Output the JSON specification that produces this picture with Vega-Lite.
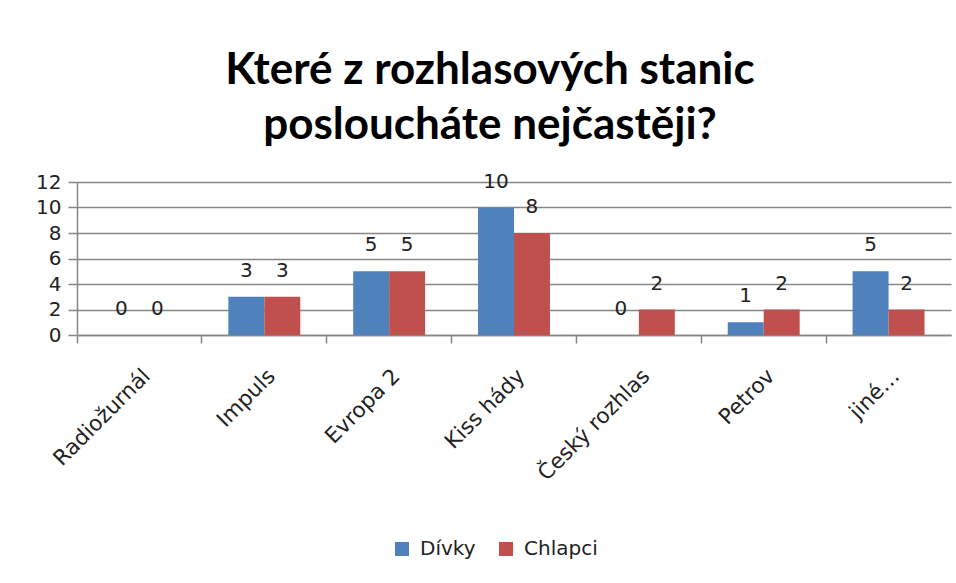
{
  "$schema": "https://vega.github.io/schema/vega-lite/v6.json",
  "autosize": "none",
  "width": 874,
  "height": 153,
  "padding": {"left": 77, "top": 182, "right": 5, "bottom": 248},
  "background": "white",
  "title": {
    "text": ["Které z rozhlasových stanic", "posloucháte nejčastěji?"],
    "font": "Lato",
    "fontSize": 44,
    "fontWeight": "bold",
    "color": "#000000",
    "lineHeight": 55,
    "anchor": "middle",
    "dx": -24,
    "offset": 24
  },
  "data": {
    "values": [
      {"stanice": "Radiožurnál", "skupina": "Dívky", "pocet": 0},
      {"stanice": "Radiožurnál", "skupina": "Chlapci", "pocet": 0},
      {"stanice": "Impuls", "skupina": "Dívky", "pocet": 3},
      {"stanice": "Impuls", "skupina": "Chlapci", "pocet": 3},
      {"stanice": "Evropa 2", "skupina": "Dívky", "pocet": 5},
      {"stanice": "Evropa 2", "skupina": "Chlapci", "pocet": 5},
      {"stanice": "Kiss hády", "skupina": "Dívky", "pocet": 10},
      {"stanice": "Kiss hády", "skupina": "Chlapci", "pocet": 8},
      {"stanice": "Český rozhlas", "skupina": "Dívky", "pocet": 0},
      {"stanice": "Český rozhlas", "skupina": "Chlapci", "pocet": 2},
      {"stanice": "Petrov", "skupina": "Dívky", "pocet": 1},
      {"stanice": "Petrov", "skupina": "Chlapci", "pocet": 2},
      {"stanice": "jiné…", "skupina": "Dívky", "pocet": 5},
      {"stanice": "jiné…", "skupina": "Chlapci", "pocet": 2}
    ]
  },
  "encoding": {
    "x": {
      "field": "stanice",
      "type": "nominal",
      "sort": null,
      "scale": {"paddingInner": 0, "paddingOuter": 0},
      "axis": {
        "title": null,
        "labelAngle": -45,
        "labelFont": "DejaVu Sans",
        "labelFontSize": 21.5,
        "labelColor": "#222222",
        "labelPadding": 22,
        "bandPosition": 0,
        "tickSize": 8,
        "tickColor": "#868686",
        "tickWidth": 1.5,
        "domainColor": "#868686",
        "domainWidth": 1.5,
        "grid": false
      }
    },
    "xOffset": {
      "field": "skupina",
      "type": "nominal",
      "sort": ["Dívky", "Chlapci"],
      "scale": {"paddingInner": 0, "paddingOuter": 0.736}
    },
    "y": {
      "field": "pocet",
      "type": "quantitative",
      "scale": {"domain": [0, 12]},
      "axis": {
        "title": null,
        "values": [0, 2, 4, 6, 8, 10, 12],
        "labelFont": "DejaVu Sans",
        "labelFontSize": 20,
        "labelColor": "#222222",
        "labelPadding": 7,
        "tickSize": 9,
        "tickColor": "#868686",
        "tickWidth": 1.5,
        "domainColor": "#868686",
        "domainWidth": 1.5,
        "gridColor": "#868686",
        "gridWidth": 1.5
      }
    }
  },
  "layer": [
    {
      "mark": {"type": "bar"},
      "encoding": {
        "color": {
          "field": "skupina",
          "type": "nominal",
          "sort": ["Dívky", "Chlapci"],
          "scale": {"domain": ["Dívky", "Chlapci"], "range": ["#4F81BD", "#C0504D"]},
          "legend": {
            "title": null,
            "orient": "none",
            "direction": "horizontal",
            "legendX": 315,
            "legendY": 357,
            "symbolType": "square",
            "symbolSize": 196,
            "symbolStrokeWidth": 0,
            "labelFont": "DejaVu Sans",
            "labelFontSize": 20,
            "labelColor": "#222222",
            "columnPadding": 20,
            "labelOffset": 8
          }
        }
      }
    },
    {
      "mark": {"type": "text", "dy": -26, "font": "DejaVu Sans", "fontSize": 20, "color": "#222222", "baseline": "middle"},
      "encoding": {
        "text": {"field": "pocet", "type": "quantitative"}
      }
    }
  ],
  "config": {
    "view": {"stroke": null}
  }
}
